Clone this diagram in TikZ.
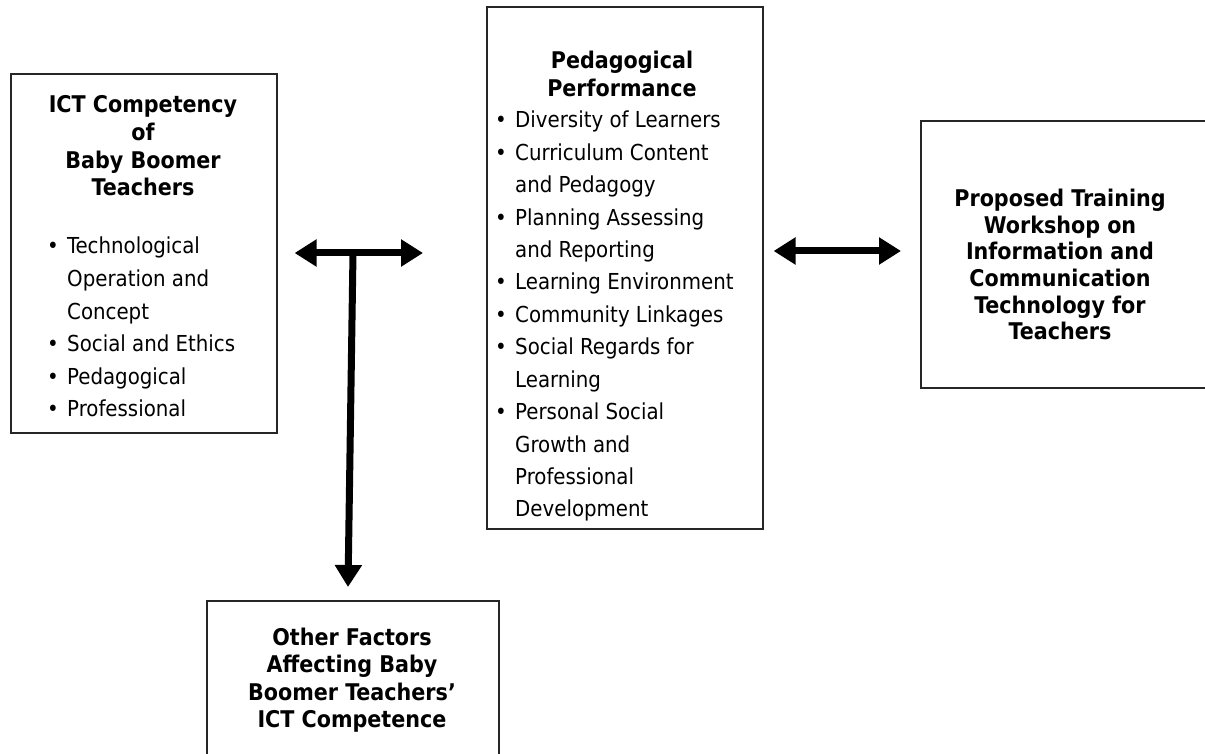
\documentclass[tikz,border=0pt]{standalone}
\usepackage{fontspec}
\setmainfont{DejaVu Sans Condensed}
\usetikzlibrary{arrows.meta}
\begin{document}
\begin{tikzpicture}[x=1pt,y=-1pt,
  frame/.style={draw=black!85, line width=1.6pt, inner sep=0pt, anchor=north west},
  ttl/.style={font=\fontsize{23}{27}\selectfont\bfseries, anchor=base, inner sep=0pt},
  itm/.style={font=\fontsize{22}{32}\selectfont, anchor=base west, inner sep=0pt},
  dot/.style={font=\fontsize{22}{32}\selectfont, anchor=base, inner sep=0pt},
  link/.style={line width=7pt, -{Triangle[length=22pt,width=26pt]}},
  both/.style={line width=7pt, {Triangle[length=22pt,width=26pt]}-{Triangle[length=22pt,width=26pt]}},
]
\useasboundingbox (0,0) rectangle (1205,754);
\fill[white] (0,0) rectangle (1205,754);

% boxes
\node[frame, minimum width=266pt, minimum height=359pt] (ict) at (10,73) {};
\node[frame, minimum width=276pt, minimum height=522pt] (ped) at (486,6) {};
\node[frame, minimum width=290pt, minimum height=267pt] (prop) at (920,120) {};
\node[frame, minimum width=292pt, minimum height=200pt] (oth) at (206,600) {};

% ICT competency box
\node[ttl] (ictT1) at (143,113) {ICT Competency};
\node[ttl] (ictT2) at (143,141) {of};
\node[ttl] (ictT3) at (143,168.5) {Baby Boomer};
\node[ttl] (ictT4) at (143,196) {Teachers};
\node[dot] (ictB1) at (53,254) {\textbullet};
\node[itm] (ictI1) at (67,254) {Technological};
\node[itm] (ictI2) at (67,286.5) {Operation and};
\node[itm] (ictI3) at (67,319) {Concept};
\node[dot] (ictB2) at (53,351.5) {\textbullet};
\node[itm] (ictI4) at (67,351.5) {Social and Ethics};
\node[dot] (ictB3) at (53,384) {\textbullet};
\node[itm] (ictI5) at (67,384) {Pedagogical};
\node[dot] (ictB4) at (53,416.5) {\textbullet};
\node[itm] (ictI6) at (67,416.5) {Professional};

% pedagogical performance box (text cut at the frame's lower margin)
\begin{scope}
\clip (ped.north west) rectangle ([yshift=9pt]ped.south east);
\node[ttl] (pedT1) at (622,68.5) {Pedagogical};
\node[ttl] (pedT2) at (622,97) {Performance};
\node[dot] (pedB1) at (501,128) {\textbullet};
\node[itm] (pedI1) at (515,128) {Diversity of Learners};
\node[dot] (pedB2) at (501,160.4) {\textbullet};
\node[itm] (pedI2) at (515,160.4) {Curriculum Content};
\node[itm] (pedI3) at (515,192.8) {and Pedagogy};
\node[dot] (pedB3) at (501,225.2) {\textbullet};
\node[itm] (pedI4) at (515,225.2) {Planning Assessing};
\node[itm] (pedI5) at (515,257.6) {and Reporting};
\node[dot] (pedB4) at (501,290) {\textbullet};
\node[itm] (pedI6) at (515,290) {Learning Environment};
\node[dot] (pedB5) at (501,322.4) {\textbullet};
\node[itm] (pedI7) at (515,322.4) {Community Linkages};
\node[dot] (pedB6) at (501,354.8) {\textbullet};
\node[itm] (pedI8) at (515,354.8) {Social Regards for};
\node[itm] (pedI9) at (515,387.2) {Learning};
\node[dot] (pedB7) at (501,419.6) {\textbullet};
\node[itm] (pedI10) at (515,419.6) {Personal Social};
\node[itm] (pedI11) at (515,452) {Growth and};
\node[itm] (pedI12) at (515,484.4) {Professional};
\node[itm] (pedI13) at (515,516.8) {Development};
\end{scope}

% proposed training box
\node[ttl] (propT1) at (1060,207) {Proposed Training};
\node[ttl] (propT2) at (1060,233.5) {Workshop on};
\node[ttl] (propT3) at (1060,260) {Information and};
\node[ttl] (propT4) at (1060,286.5) {Communication};
\node[ttl] (propT5) at (1060,313) {Technology for};
\node[ttl] (propT6) at (1060,339.5) {Teachers};

% other factors box
\node[ttl] (othT1) at (352,645) {Other Factors};
\node[ttl] (othT2) at (352,672.5) {Affecting Baby};
\node[ttl] (othT3) at (352,700) {Boomer Teachers’};
\node[ttl] (othT4) at (352,727) {ICT Competence};

% connectors
\coordinate (ya) at (0,253);
\coordinate (yb) at (0,251);
\coordinate (tj) at (353,253);
\draw[both, shorten <=17pt, shorten >=63pt] (ict.east |- ya) -- (ped.west |- ya);
\draw[both, shorten <=10pt, shorten >=19pt] (ped.east |- yb) -- (prop.west |- yb);
\draw[link, shorten >=13pt] (tj) -- ([xshift=-5pt]oth.north);
\end{tikzpicture}
\end{document}
